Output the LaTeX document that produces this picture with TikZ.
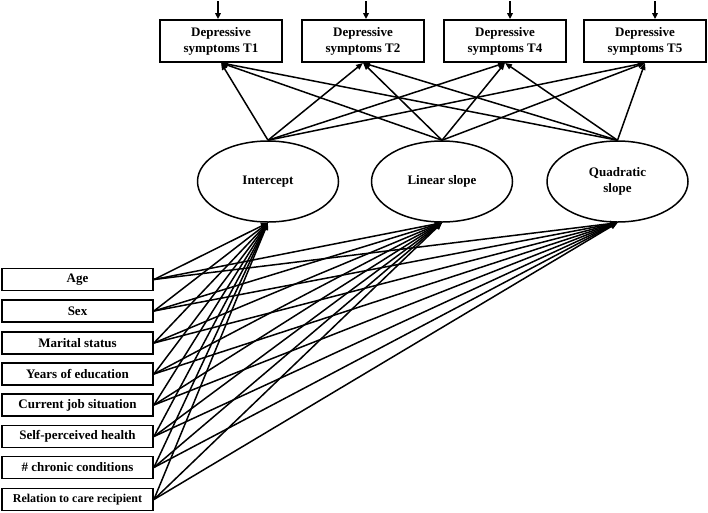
\documentclass[tikz,border=0pt]{standalone}
\usepackage{fontspec}
\setmainfont{Liberation Serif}
\usetikzlibrary{shapes.geometric,arrows.meta}
\begin{document}
\begin{tikzpicture}[x=1pt,y=-1pt,
  topbox/.style={draw,line width=1.8pt,minimum width=122pt,minimum height=42pt,inner sep=0pt,align=center,font=\fontsize{13}{16}\selectfont\bfseries},
  leftbox/.style={draw,line width=1.8pt,minimum width=151pt,minimum height=22pt,inner sep=0pt,font=\fontsize{13}{15}\selectfont\bfseries},
  latent/.style={draw,ellipse,line width=1.5pt,minimum width=141pt,minimum height=81pt,inner sep=0pt,align=center,font=\fontsize{13}{16}\selectfont\bfseries},
  conn/.style={line width=1.5pt,-{Triangle[length=7pt,width=5.5pt]}},
  errarrow/.style={line width=1.5pt,-{Triangle[length=6pt,width=5.5pt]}}
]
\useasboundingbox (0,0) rectangle (708,512);

% indicators
\node[topbox] (t1) at (221,41) {Depressive\\symptoms T1};
\node[topbox] (t2) at (363,41) {Depressive\\symptoms T2};
\node[topbox] (t4) at (505,41) {Depressive\\symptoms T4};
\node[topbox] (t5) at (645,41) {Depressive\\symptoms T5};

% error arrows
\coordinate (e1) at (218,1);
\coordinate (e2) at (366,1);
\coordinate (e4) at (510,1);
\coordinate (e5) at (655,1);
\draw[errarrow] (e1) -- (e1 |- t1.north);
\draw[errarrow] (e2) -- (e2 |- t2.north);
\draw[errarrow] (e4) -- (e4 |- t4.north);
\draw[errarrow] (e5) -- (e5 |- t5.north);

% latent factors
\node[latent] (i) at (268,181.5) {Intercept};
\node[latent] (l) at (442,181.5) {Linear slope};
\node[latent] (q) at (617.5,181.5) {Quadratic\\slope};

\foreach \L in {i,l,q}{
  \foreach \T in {t1,t2,t4,t5}{
    \draw[conn] (\L.north) -- (\T.south);
  }
}

% covariates
\node[leftbox] (c1) at (77.5,279.5) {Age};
\node[leftbox] (c2) at (77.5,311) {Sex};
\node[leftbox] (c3) at (77.5,343) {Marital status};
\node[leftbox] (c4) at (77.5,374) {Years of education};
\node[leftbox] (c5) at (77.5,405) {Current job situation};
\node[leftbox] (c6) at (77.5,436.5) {Self-perceived health};
\node[leftbox] (c7) at (77.5,467.5) {\# chronic conditions};
\node[leftbox,font=\fontsize{12}{14}\selectfont\bfseries] (c8) at (77.5,499.5) {Relation to care recipient};

\foreach \c in {c1,c2,c3,c4,c5,c6,c7,c8}{
  \foreach \L in {i,l,q}{
    \draw[conn] (\c.east) -- (\L.south);
  }
}
\end{tikzpicture}
\end{document}
